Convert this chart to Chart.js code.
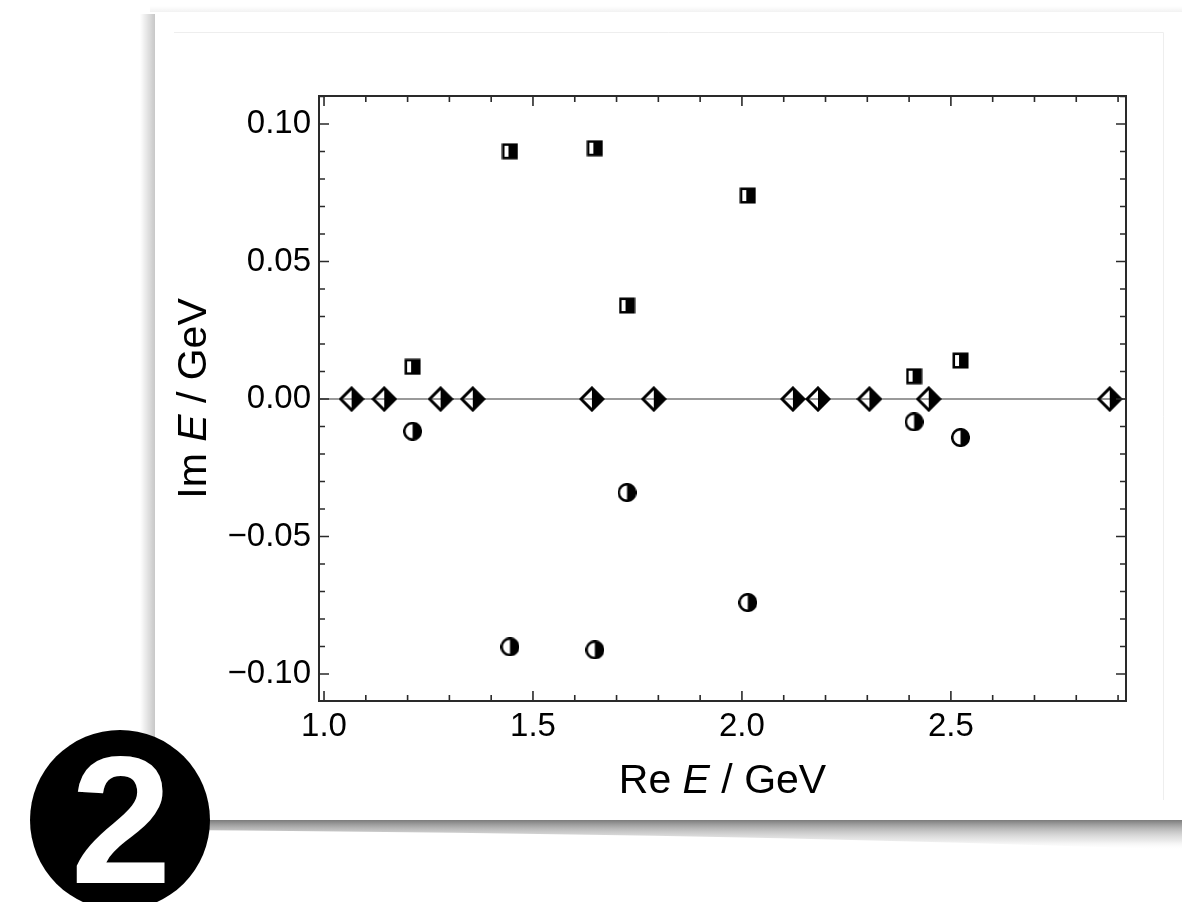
<!DOCTYPE html>
<html>
<head>
<meta charset="utf-8">
<script src="https://cdn.jsdelivr.net/npm/chart.js@4/dist/chart.umd.min.js"></script>
<style>
html,body{margin:0;padding:0;background:#fff;}
#c{display:block;}
</style>
</head>
<body>
<canvas id="c" width="1182" height="902"></canvas>
<script>
// ---- data ----
const diamondX = [1.066, 1.144, 1.279, 1.356, 1.641, 1.789, 2.122, 2.182, 2.305, 2.447, 2.880];
const diamondY = [0, 0, 0, 0, 0, 0, 0, 0, 0, 0, 0];
const pairX   = [1.212, 1.445, 1.648, 1.725, 2.014, 2.412, 2.523];
const squareY = [0.0117, 0.0901, 0.0912, 0.0340, 0.0740, 0.0083, 0.0140];
const circleY = [-0.0117, -0.0901, -0.0912, -0.0340, -0.0740, -0.0083, -0.0140];
const xTickValues = [1.0, 1.5, 2.0, 2.5];
const xTickLabels = ['1.0', '1.5', '2.0', '2.5'];
const yTickValues = [-0.10, -0.05, 0.00, 0.05, 0.10];
const yTickLabels = ['\u22120.10', '\u22120.05', '0.00', '0.05', '0.10'];
const xMinorStep = 0.1;
const yMinorStep = 0.01;
const FONT = '"Liberation Sans", Arial, Helvetica, sans-serif';

// ---- marker images ----
function mk(w, h, draw) {
  const c = document.createElement('canvas');
  c.width = w; c.height = h;
  draw(c.getContext('2d'));
  return c;
}
const squareImg = mk(17, 17, g => {
  g.fillStyle = '#000'; g.fillRect(0.5, 0.5, 16, 16);
  g.fillStyle = '#fff'; g.fillRect(3, 3, 4, 11);
});
const circleImg = mk(19, 19, g => {
  const cx = 9.5, cy = 9.5, r = 8.3;
  g.fillStyle = '#fff';
  g.beginPath(); g.arc(cx, cy, r, 0, Math.PI * 2); g.fill();
  g.fillStyle = '#000';
  g.beginPath(); g.arc(cx, cy, r, -Math.PI / 2, Math.PI / 2); g.closePath(); g.fill();
  g.strokeStyle = '#000'; g.lineWidth = 2.5;
  g.beginPath(); g.arc(cx, cy, r, 0, Math.PI * 2); g.stroke();
});
const diamondImg = mk(26, 26, g => {
  const cx = 13, cy = 13, r = 11;
  g.fillStyle = '#000';
  g.beginPath(); g.moveTo(cx, cy - r); g.lineTo(cx + r, cy); g.lineTo(cx, cy + r); g.closePath(); g.fill();
  g.strokeStyle = '#000'; g.lineWidth = 3; g.lineJoin = 'miter';
  g.beginPath(); g.moveTo(cx, cy - r); g.lineTo(cx + r, cy); g.lineTo(cx, cy + r); g.lineTo(cx - r, cy); g.closePath(); g.stroke();
});

// ---- plugins ----
const cardPlugin = {
  id: 'card',
  beforeDraw(chart) {
    const ctx = chart.ctx;
    ctx.save();
    ctx.fillStyle = '#fff';
    ctx.fillRect(0, 0, chart.width, chart.height);
    // left shadow
    let g = ctx.createLinearGradient(140, 0, 155, 0);
    g.addColorStop(0, 'rgba(0,0,0,0)');
    g.addColorStop(1, 'rgba(0,0,0,0.22)');
    ctx.fillStyle = g;
    ctx.fillRect(140, 14, 15, 806);
    // top shadow
    g = ctx.createLinearGradient(0, 6, 0, 12);
    g.addColorStop(0, 'rgba(0,0,0,0)');
    g.addColorStop(1, 'rgba(0,0,0,0.05)');
    ctx.fillStyle = g;
    ctx.fillRect(150, 6, 1032, 6);
    // bottom curl shadow
    ctx.beginPath();
    ctx.moveTo(170, 820);
    ctx.lineTo(1182, 820);
    ctx.lineTo(1182, 850);
    ctx.quadraticCurveTo(760, 834, 170, 830);
    ctx.closePath();
    g = ctx.createLinearGradient(0, 820, 0, 850);
    g.addColorStop(0, 'rgba(100,100,100,0.85)');
    g.addColorStop(0.3, 'rgba(140,140,140,0.6)');
    g.addColorStop(0.7, 'rgba(190,190,190,0.3)');
    g.addColorStop(1, 'rgba(255,255,255,0)');
    ctx.fillStyle = g;
    ctx.fill();
    // card
    ctx.fillStyle = '#fff';
    ctx.fillRect(155, 12, 1182 - 155, 820 - 12);
    // faint inner lines
    ctx.strokeStyle = '#eeeeee'; ctx.lineWidth = 1;
    ctx.beginPath();
    ctx.moveTo(174, 32.5); ctx.lineTo(1163.5, 32.5); ctx.lineTo(1163.5, 800);
    ctx.stroke();
    ctx.restore();
  },
  beforeDatasetsDraw(chart) {
    const ctx = chart.ctx, a = chart.chartArea, ys = chart.scales.y;
    const y0 = ys.getPixelForValue(0);
    ctx.save();
    ctx.strokeStyle = '#9a9a9a'; ctx.lineWidth = 2;
    ctx.beginPath(); ctx.moveTo(a.left, y0); ctx.lineTo(a.right, y0); ctx.stroke();
    ctx.restore();
  },
  afterDatasetsDraw(chart) {
    const ctx = chart.ctx, a = chart.chartArea, xs = chart.scales.x, ys = chart.scales.y;
    ctx.save();
    ctx.strokeStyle = '#2a2a2a'; ctx.lineWidth = 1.6;
    const xStart = Math.ceil(xs.min / xMinorStep);
    const xEnd = Math.floor(xs.max / xMinorStep);
    for (let k = xStart; k <= xEnd; k++) {
      const v = k * xMinorStep;
      const major = xTickValues.some(t => Math.abs(t - v) < 1e-9);
      const L = major ? 10 : 6;
      const px = xs.getPixelForValue(v);
      ctx.beginPath();
      ctx.moveTo(px, a.bottom); ctx.lineTo(px, a.bottom - L);
      ctx.moveTo(px, a.top); ctx.lineTo(px, a.top + L);
      ctx.stroke();
    }
    const yStart = Math.ceil(ys.min / yMinorStep - 1e-9);
    const yEnd = Math.floor(ys.max / yMinorStep + 1e-9);
    for (let k = yStart; k <= yEnd; k++) {
      const v = k * yMinorStep;
      const major = yTickValues.some(t => Math.abs(t - v) < 1e-9);
      const L = major ? 10 : 6;
      const py = ys.getPixelForValue(v);
      ctx.beginPath();
      ctx.moveTo(a.left, py); ctx.lineTo(a.left + L, py);
      ctx.moveTo(a.right, py); ctx.lineTo(a.right - L, py);
      ctx.stroke();
    }
    ctx.lineWidth = 2;
    ctx.strokeRect(a.left, a.top, a.right - a.left, a.bottom - a.top);
    ctx.restore();
  },
  afterDraw(chart) {
    const ctx = chart.ctx, a = chart.chartArea;
    ctx.save();
    ctx.fillStyle = '#000';
    ctx.textBaseline = 'alphabetic';
    function mixed(parts, size) {
      let w = 0;
      parts.forEach(p => { ctx.font = (p[1] ? 'italic ' : '') + size + 'px ' + FONT; p.w = ctx.measureText(p[0]).width; w += p.w; });
      return w;
    }
    function drawParts(parts, size, x, y) {
      let cx = x;
      parts.forEach(p => { ctx.font = (p[1] ? 'italic ' : '') + size + 'px ' + FONT; ctx.textAlign = 'left'; ctx.fillText(p[0], cx, y); cx += p.w; });
    }
    const size = 41;
    const xt = [['Re ', false], ['E', true], [' / GeV', false]];
    const wx = mixed(xt, size);
    drawParts(xt, size, (a.left + a.right) / 2 - wx / 2, 793);
    const yt = [['Im ', false], ['E', true], [' / GeV', false]];
    const wy = mixed(yt, size);
    ctx.save();
    ctx.translate(206, (a.top + a.bottom) / 2);
    ctx.rotate(-Math.PI / 2);
    drawParts(yt, size, -wy / 2, 0);
    ctx.restore();
    // badge
    ctx.beginPath();
    ctx.arc(120, 820, 90, 0, Math.PI * 2);
    ctx.fillStyle = '#000';
    ctx.fill();
    ctx.fillStyle = '#fff';
    ctx.font = 'bold 182px ' + FONT;
    ctx.textAlign = 'center';
    ctx.fillText('2', 121, 883);
    ctx.restore();
  }
};

new Chart(document.getElementById('c'), {
  type: 'scatter',
  data: {
    datasets: [
      { label: 'real', data: diamondX.map((x, i) => ({ x, y: diamondY[i] })), pointStyle: diamondImg },
      { label: 'upper', data: pairX.map((x, i) => ({ x, y: squareY[i] })), pointStyle: squareImg },
      { label: 'lower', data: pairX.map((x, i) => ({ x, y: circleY[i] })), pointStyle: circleImg }
    ]
  },
  options: {
    responsive: false,
    animation: false,
    devicePixelRatio: 1,
    layout: { padding: { left: 0, top: 96, right: 56, bottom: 0 } },
    plugins: { legend: { display: false }, tooltip: { enabled: false } },
    scales: {
      x: {
        type: 'linear', min: 0.988, max: 2.919,
        afterBuildTicks: s => { s.ticks = xTickValues.map(v => ({ value: v })); },
        afterFit: s => { s.height = 201; },
        grid: { display: false, drawTicks: false },
        border: { display: false },
        ticks: { callback: (v, i) => xTickLabels[i], font: { family: FONT, size: 33 }, color: '#000', padding: 6, maxRotation: 0, autoSkip: false }
      },
      y: {
        type: 'linear', min: -0.1098, max: 0.1102,
        afterBuildTicks: s => { s.ticks = yTickValues.map(v => ({ value: v })); },
        afterFit: s => { s.width = 319; },
        grid: { display: false, drawTicks: false },
        border: { display: false },
        ticks: { callback: (v, i) => yTickLabels[i], font: { family: FONT, size: 33 }, color: '#000', padding: 8, autoSkip: false }
      }
    }
  },
  plugins: [cardPlugin]
});
</script>
</body>
</html>
